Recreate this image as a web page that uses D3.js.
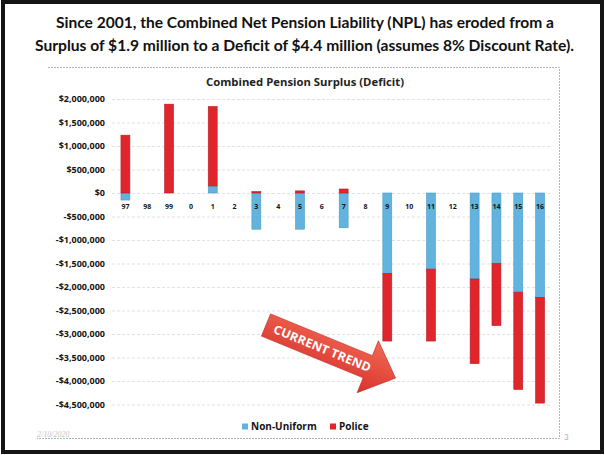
<!DOCTYPE html>
<html>
<head>
<meta charset="utf-8">
<script src="https://cdn.jsdelivr.net/npm/d3@7"></script>
<style>
  html, body { margin: 0; padding: 0; background: #fff; }
  svg { display: block; }
</style>
</head>
<body>
<div id="chart"></div>
<script>
// Fiscal years (two-digit) shown on the category axis
const years = ['97', '98', '99', '0', '1', '2', '3', '4', '5', '6', '7', '8', '9', '10', '11', '12', '13', '14', '15', '16'];
// Combined pension surplus (deficit) by plan, null = not reported
const nonUniform = [-150000, null, 0, null, 150000, null, -770000, null, -770000, null, -740000, null, -1710000, null, -1620000, null, -1830000, -1500000, -2110000, -2220000];
const police = [1230000, null, 1890000, null, 1690000, null, 30000, null, 45000, null, 85000, null, -1440000, null, -1530000, null, -1800000, -1320000, -2070000, -2250000];
const seriesNames = ['Non-Uniform', 'Police'];
const yTicks = [2000000, 1500000, 1000000, 500000, 0, -500000, -1000000, -1500000, -2000000, -2500000, -3000000, -3500000, -4000000, -4500000];

const titleLines = [
    'Since 2001, the Combined Net Pension Liability (NPL) has eroded from a',
    'Surplus of $1.9 million to a Deficit of $4.4 million (assumes 8% Discount Rate).'
];
const chartTitle = 'Combined Pension Surplus (Deficit)';

const colors = { 'Non-Uniform': '#62b3de', 'Police': '#e1252d' };
const strokes = { 'Non-Uniform': '#4a9cc8', 'Police': '#b81c22' };
const labelFont = '"Open Sans", Lato, sans-serif';

const W = 605, H = 455;
const svg = d3.select('#chart').append('svg')
    .attr('width', W)
    .attr('height', H)
    .attr('font-family', 'Lato, "Open Sans", sans-serif');

svg.append('rect').attr('width', W).attr('height', H).attr('fill', '#fff');

// Slide frame
svg.append('rect')
    .attr('x', 3).attr('y', 2)
    .attr('width', W - 6).attr('height', H - 5)
    .attr('fill', 'none')
    .attr('stroke', '#151515')
    .attr('stroke-width', 4);

// Headline
svg.selectAll('text.headline')
    .data(titleLines).enter()
    .append('text')
    .attr('class', 'headline')
    .attr('x', (d, i) => i === 0 ? 56 : 35)
    .attr('y', (d, i) => 28 + i * 23)
    .attr('textLength', (d, i) => i === 0 ? 498 : 539)
    .attr('lengthAdjust', 'spacingAndGlyphs')
    .attr('font-size', 16)
    .attr('font-weight', 'bold')
    .attr('fill', '#111')
    .text(d => d);

// Chart area border (top, right, bottom only, dashed)
svg.append('path')
    .attr('d', 'M48,67.5 H559.5 V438.5 H37')
    .attr('fill', 'none')
    .attr('stroke', '#b5b5b5')
    .attr('stroke-width', 1)
    .attr('stroke-dasharray', '2,1');

svg.append('text')
    .attr('x', 206)
    .attr('y', 86)
    .attr('textLength', 198)
    .attr('lengthAdjust', 'spacingAndGlyphs')
    .attr('font-family', labelFont)
    .attr('font-size', 11)
    .attr('font-weight', 'bold')
    .attr('fill', '#222')
    .text(chartTitle);

// Scales
const x = d3.scaleBand()
    .domain(years)
    .range([114.5, 551])
    .paddingInner(0.59)
    .paddingOuter(0.295);

const y = d3.scaleLinear()
    .domain([-4500000, 2000000])
    .range([404.5, 99]);

const money = d3.format(',');
const fmt = v => v < 0 ? '-$' + money(-v) : '$' + money(v);

// Gridlines
const grid = svg.append('g')
    .attr('transform', 'translate(112,0)')
    .call(d3.axisLeft(y).tickValues(yTicks).tickSize(-440).tickFormat(''));
grid.select('.domain').remove();
grid.selectAll('line')
    .attr('stroke', '#dadada')
    .attr('stroke-width', 0.8)
    .attr('stroke-dasharray', '3,2');

// Y axis labels
const yAxis = svg.append('g')
    .attr('transform', 'translate(105,0)')
    .call(d3.axisLeft(y).tickValues(yTicks).tickSize(0).tickFormat(fmt));
yAxis.select('.domain').remove();
yAxis.selectAll('text')
    .attr('x', 0)
    .attr('font-family', labelFont)
    .attr('font-size', 9)
    .attr('font-weight', 'bold')
    .attr('fill', '#141414');

// Stacked bars (positives and negatives stacked apart, like Excel)
const rows = years.map((yr, i) => ({
    year: yr,
    'Non-Uniform': nonUniform[i] ?? 0,
    'Police': police[i] ?? 0
}));
const stacked = d3.stack()
    .keys(seriesNames)
    .offset(d3.stackOffsetDiverging)(rows);

const layers = svg.append('g').selectAll('g.layer')
    .data(stacked).enter()
    .append('g')
    .attr('class', 'layer')
    .attr('fill', d => colors[d.key])
    .attr('stroke', d => strokes[d.key])
    .attr('stroke-width', 0.6);

layers.selectAll('rect')
    .data(d => d.filter(p => p[0] !== p[1]))
    .enter().append('rect')
    .attr('x', d => x(d.data.year))
    .attr('width', x.bandwidth())
    .attr('y', d => y(Math.max(d[0], d[1])))
    .attr('height', d => Math.abs(y(d[0]) - y(d[1])));

// Category labels sit just under the zero line, over the bars
const xAxis = svg.append('g')
    .attr('transform', `translate(0,${y(0) + 8})`)
    .call(d3.axisBottom(x).tickSize(0));
xAxis.select('.domain').remove();
xAxis.selectAll('text')
    .attr('font-family', labelFont)
    .attr('font-size', 7)
    .attr('font-weight', 'bold')
    .attr('fill', '#141414');

// "CURRENT TREND" arrow
const defs = svg.append('defs');
const grad = defs.append('linearGradient')
    .attr('id', 'arrowFill')
    .attr('x1', 0).attr('y1', 0).attr('x2', 0).attr('y2', 1);
grad.append('stop').attr('offset', '0%').attr('stop-color', '#f26a55');
grad.append('stop').attr('offset', '100%').attr('stop-color', '#d7322b');

const arrow = svg.append('g')
    .attr('transform', 'translate(266,325) rotate(22.3)');
arrow.append('path')
    .attr('d', 'M0,-12 H110 V-28 L140,0 L110,28 V12 H0 Z')
    .attr('fill', 'url(#arrowFill)')
    .attr('stroke', '#c22a25')
    .attr('stroke-width', 0.6);
arrow.append('text')
    .attr('x', 9)
    .attr('y', 4.5)
    .attr('textLength', 104)
    .attr('lengthAdjust', 'spacingAndGlyphs')
    .attr('font-family', labelFont)
    .attr('font-size', 12)
    .attr('font-weight', 'bold')
    .attr('fill', '#fff')
    .text('CURRENT TREND');

// Legend
const legend = svg.append('g').selectAll('g.legend')
    .data(seriesNames).enter()
    .append('g')
    .attr('class', 'legend')
    .attr('transform', (d, i) => `translate(${i === 0 ? 242 : 330},0)`);
legend.append('rect')
    .attr('x', 0).attr('y', 423.5)
    .attr('width', 6).attr('height', 6)
    .attr('fill', d => colors[d]);
legend.append('text')
    .attr('x', 9)
    .attr('y', 430)
    .attr('font-family', labelFont)
    .attr('font-size', 10)
    .attr('font-weight', 'bold')
    .attr('fill', '#141414')
    .text(d => d);

// Slide footer
svg.append('text')
    .attr('x', 37).attr('y', 437)
    .attr('font-family', '"Liberation Serif", serif')
    .attr('font-style', 'italic')
    .attr('font-size', 8)
    .attr('fill', '#c4c4c4')
    .text('2/10/2020');
svg.append('text')
    .attr('x', 564).attr('y', 440)
    .attr('font-size', 8)
    .attr('fill', '#b0b0b0')
    .text('3');
</script>
</body>
</html>
